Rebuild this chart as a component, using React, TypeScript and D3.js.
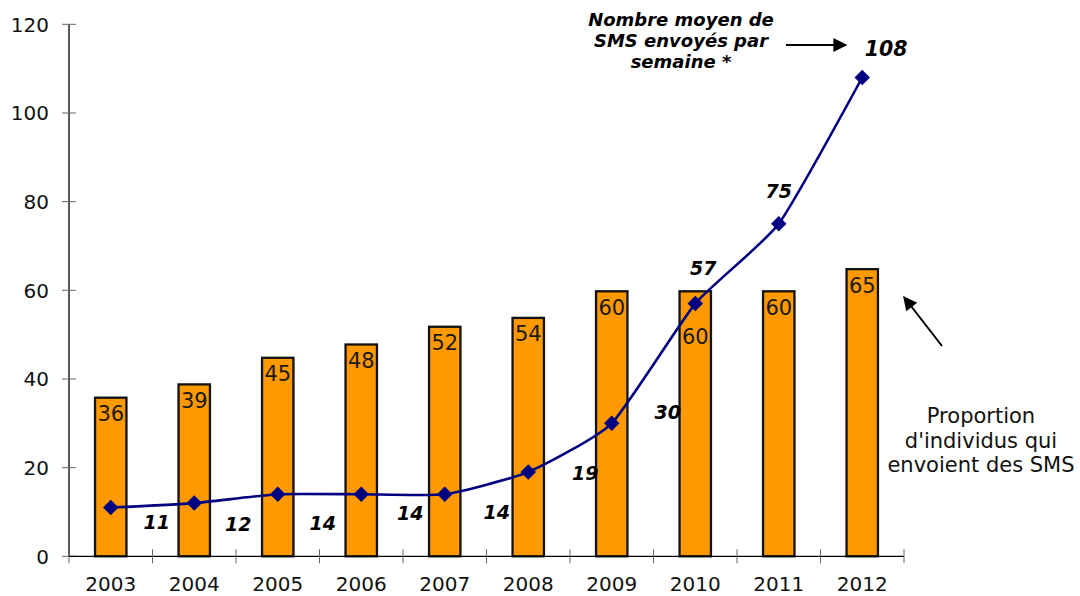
import React, { useEffect, useRef } from 'react';
import * as d3 from 'd3';

const years = ['2003', '2004', '2005', '2006', '2007', '2008', '2009', '2010', '2011', '2012'];
// Proportion d'individus qui envoient des SMS (%)
const shareSending = [36, 39, 45, 48, 52, 54, 60, 60, 60, 65];
// Nombre moyen de SMS envoyés par semaine
const smsPerWeek = [11, 12, 14, 14, 14, 19, 30, 57, 75, 108];
const yTicks = [0, 20, 40, 60, 80, 100, 120];

// label placement (layout only) relative to each point
const pointLabelOffsets: [number, number][] = [
  [46, 21], [44, 28], [45, 36], [49, 26], [52, 25],
  [57, 8], [56, -4], [8, -29], [0, -26], [24, -22],
];
const barLabelDrop = [0, 0, 0, 0, 0, 0, 0, 29, 0, 0];

const W = 1080;
const H = 596;
const margin = { top: 24.3, right: 176, bottom: 39.7, left: 69 };

export default function App() {
  const svgRef = useRef<SVGSVGElement | null>(null);

  useEffect(() => {
    if (!svgRef.current) return;
    const svg = d3.select(svgRef.current);
    svg.selectAll('*').remove();

    const font = "'DejaVu Sans', Verdana, sans-serif";

    const x = d3.scaleBand<string>()
      .domain(years)
      .range([margin.left, W - margin.right])
      .paddingInner(0.6)
      .paddingOuter(0.3);

    const y = d3.scaleLinear()
      .domain([0, 120])
      .range([H - margin.bottom, margin.top]);

    const step = x.step();
    const cx = (yr: string) => (x(yr) ?? 0) + x.bandwidth() / 2;

    svg.append('defs').append('marker')
      .attr('id', 'arrow')
      .attr('viewBox', '0 0 10 10')
      .attr('refX', 9)
      .attr('refY', 5)
      .attr('markerWidth', 8)
      .attr('markerHeight', 7)
      .attr('markerUnits', 'strokeWidth')
      .attr('orient', 'auto')
      .append('path')
      .attr('d', 'M0,0 L10,5 L0,10 z')
      .attr('fill', '#000');

    // bars
    svg.append('g')
      .selectAll('rect')
      .data(shareSending)
      .join('rect')
      .attr('x', (_, i) => (x(years[i]) ?? 0) + 1)
      .attr('y', d => y(d) + 1)
      .attr('width', x.bandwidth() - 2)
      .attr('height', d => y(0) - y(d) - 1)
      .attr('fill', '#FF9900')
      .attr('stroke', '#111')
      .attr('stroke-width', 2.3);

    // bar labels
    svg.append('g')
      .selectAll('text')
      .data(shareSending)
      .join('text')
      .attr('x', (_, i) => cx(years[i]))
      .attr('y', (d, i) => y(d) + 24.5 + barLabelDrop[i])
      .attr('text-anchor', 'middle')
      .attr('font-family', font)
      .attr('font-size', 21)
      .attr('fill', '#1a1a1a')
      .text(d => d);

    // y axis
    const yAxis = svg.append('g');
    yAxis.append('line')
      .attr('x1', margin.left).attr('x2', margin.left)
      .attr('y1', y(120)).attr('y2', y(0))
      .attr('stroke', '#000').attr('stroke-width', 1.3);
    yAxis.selectAll('line.tick')
      .data(yTicks)
      .join('line')
      .attr('class', 'tick')
      .attr('x1', margin.left - 7).attr('x2', margin.left + 7)
      .attr('y1', d => y(d)).attr('y2', d => y(d))
      .attr('stroke', '#666').attr('stroke-width', 1);
    yAxis.selectAll('text')
      .data(yTicks)
      .join('text')
      .attr('x', 49)
      .attr('y', d => y(d))
      .attr('dy', '0.36em')
      .attr('text-anchor', 'end')
      .attr('font-family', font)
      .attr('font-size', 20)
      .attr('fill', '#111')
      .text(d => d);

    // x axis
    const xAxis = svg.append('g');
    xAxis.append('line')
      .attr('x1', margin.left).attr('x2', W - margin.right)
      .attr('y1', y(0)).attr('y2', y(0))
      .attr('stroke', '#000').attr('stroke-width', 1.3);
    xAxis.selectAll('line.tick')
      .data(d3.range(years.length + 1))
      .join('line')
      .attr('class', 'tick')
      .attr('x1', i => margin.left + i * step)
      .attr('x2', i => margin.left + i * step)
      .attr('y1', y(0) - 7).attr('y2', y(0) + 7)
      .attr('stroke', '#666').attr('stroke-width', 1);
    xAxis.selectAll('text')
      .data(years)
      .join('text')
      .attr('x', d => cx(d))
      .attr('y', y(0) + 35)
      .attr('text-anchor', 'middle')
      .attr('font-family', font)
      .attr('font-size', 20)
      .attr('fill', '#111')
      .text(d => d);

    // line (lightly smoothed)
    const line = d3.line<number>()
      .x((_, i) => cx(years[i]))
      .y(d => y(d))
      .curve(d3.curveCardinal.tension(0.5));

    svg.append('path')
      .datum(smsPerWeek)
      .attr('d', line)
      .attr('fill', 'none')
      .attr('stroke', '#000080')
      .attr('stroke-width', 2.6);

    const diamond = d3.symbol().type(d3.symbolSquare).size(120);
    svg.append('g')
      .selectAll('path')
      .data(smsPerWeek)
      .join('path')
      .attr('d', diamond)
      .attr('transform', (d, i) => `translate(${cx(years[i])},${y(d)}) rotate(45)`)
      .attr('fill', '#000080');

    svg.append('g')
      .selectAll('text')
      .data(smsPerWeek)
      .join('text')
      .attr('x', (_, i) => cx(years[i]) + pointLabelOffsets[i][0])
      .attr('y', (d, i) => y(d) + pointLabelOffsets[i][1])
      .attr('text-anchor', 'middle')
      .attr('font-family', font)
      .attr('font-size', (_, i) => (i === smsPerWeek.length - 1 ? 20.5 : 19))
      .attr('font-weight', 'bold')
      .attr('font-style', 'italic')
      .attr('fill', '#000')
      .text(d => d);

    // annotation: average SMS per week
    const note = svg.append('text')
      .attr('text-anchor', 'middle')
      .attr('font-family', font)
      .attr('font-size', 18)
      .attr('font-weight', 'bold')
      .attr('font-style', 'italic')
      .attr('fill', '#000');
    ['Nombre moyen de', 'SMS envoyés par', 'semaine *'].forEach((t, i) => {
      note.append('tspan').attr('x', 681).attr('y', 25.5 + i * 21).text(t);
    });
    svg.append('line')
      .attr('x1', 786).attr('y1', 45)
      .attr('x2', 846).attr('y2', 45)
      .attr('stroke', '#000').attr('stroke-width', 2)
      .attr('marker-end', 'url(#arrow)');

    // annotation: share of people sending SMS
    const note2 = svg.append('text')
      .attr('text-anchor', 'middle')
      .attr('font-family', font)
      .attr('font-size', 21)
      .attr('fill', '#111');
    ['Proportion', "d'individus qui", 'envoient des SMS'].forEach((t, i) => {
      note2.append('tspan').attr('x', 981).attr('y', 423 + i * 24.7).text(t);
    });
    svg.append('line')
      .attr('x1', 942).attr('y1', 346)
      .attr('x2', 904).attr('y2', 297)
      .attr('stroke', '#000').attr('stroke-width', 2)
      .attr('marker-end', 'url(#arrow)');
  }, []);

  return (
    <svg
      ref={svgRef}
      width={W}
      height={H}
      style={{ position: 'absolute', left: 0, top: 0, background: '#fff' }}
    />
  );
}
